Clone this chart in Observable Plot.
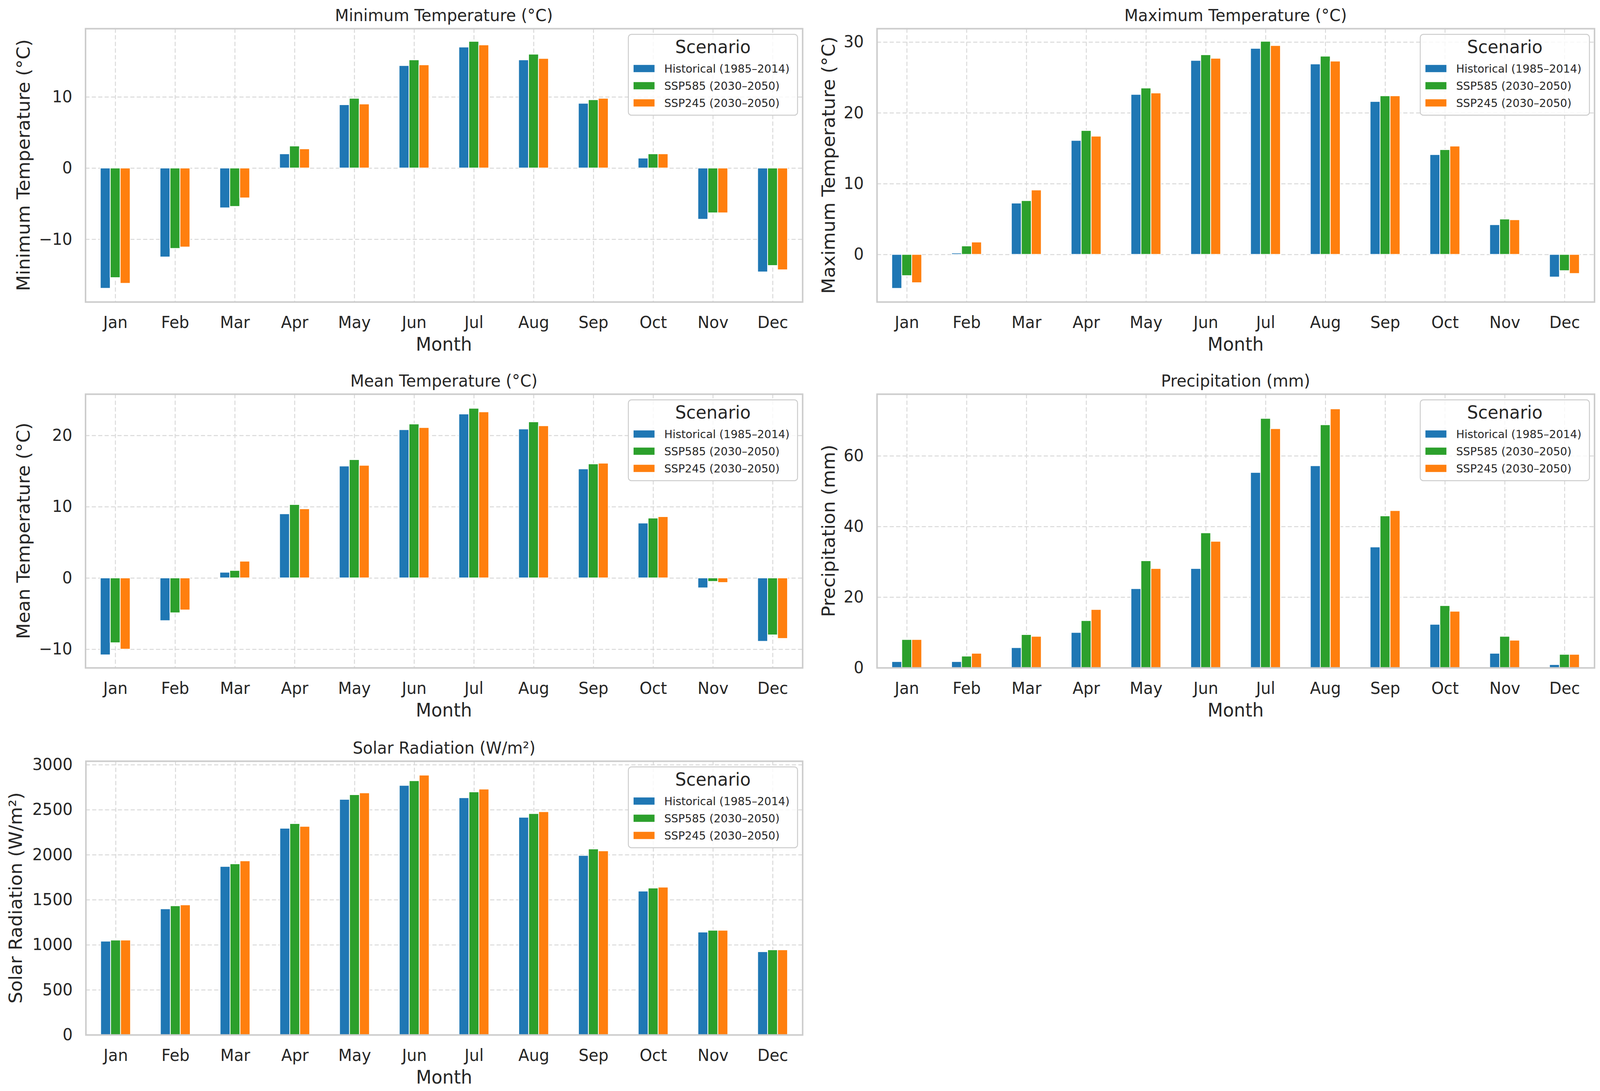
<!DOCTYPE html>
<html>
<head>
<meta charset="utf-8">
<script src="https://cdn.jsdelivr.net/npm/d3@7"></script>
<script src="https://cdn.jsdelivr.net/npm/@observablehq/plot@0.6"></script>
<style>
  html, body { margin: 0; padding: 0; background: #fff; overflow: hidden; }
  #root { position: relative; width: 4237px; height: 2794px; overflow: hidden; background: #fff; font-family: "DejaVu Sans", sans-serif; transform-origin: 0 0; }
  .panel { position: absolute; }
  #overlay { position: absolute; left: 0; top: 0; pointer-events: none; }
</style>
</head>
<body>
<div id="root"></div>
<script>
// ---------- data ----------
const months = ["Jan", "Feb", "Mar", "Apr", "May", "Jun", "Jul", "Aug", "Sep", "Oct", "Nov", "Dec"];
const scenarios = ["Historical (1985–2014)", "SSP585 (2030–2050)", "SSP245 (2030–2050)"];

const tminHist   = [-16.9, -12.5, -5.6, 2.0, 8.9, 14.4, 17.0, 15.2, 9.1, 1.4, -7.2, -14.6];
const tminSsp585 = [-15.4, -11.3, -5.4, 3.1, 9.8, 15.2, 17.8, 16.0, 9.6, 2.0, -6.3, -13.7];
const tminSsp245 = [-16.2, -11.1, -4.2, 2.7, 9.0, 14.5, 17.3, 15.4, 9.8, 2.0, -6.3, -14.3];

const tmaxHist   = [-4.8, 0.2, 7.25, 16.1, 22.6, 27.4, 29.1, 26.9, 21.6, 14.1, 4.2, -3.2];
const tmaxSsp585 = [-3.0, 1.2, 7.6, 17.5, 23.5, 28.2, 30.1, 28.0, 22.4, 14.8, 5.0, -2.3];
const tmaxSsp245 = [-4.0, 1.75, 9.1, 16.7, 22.8, 27.7, 29.5, 27.3, 22.4, 15.3, 4.9, -2.7];

const tmeanHist   = [-10.8, -6.0, 0.8, 9.0, 15.7, 20.8, 23.0, 20.9, 15.3, 7.7, -1.4, -8.9];
const tmeanSsp585 = [-9.1, -4.9, 1.05, 10.3, 16.6, 21.6, 23.8, 21.9, 16.0, 8.4, -0.5, -8.0];
const tmeanSsp245 = [-10.0, -4.5, 2.35, 9.7, 15.8, 21.1, 23.3, 21.35, 16.1, 8.6, -0.65, -8.5];

const precHist   = [1.75, 1.75, 5.7, 10.0, 22.4, 28.1, 55.3, 57.2, 34.2, 12.3, 4.1, 0.9];
const precSsp585 = [8.0, 3.3, 9.4, 13.35, 30.3, 38.2, 70.6, 68.8, 43.0, 17.6, 8.9, 3.8];
const precSsp245 = [8.0, 4.1, 8.9, 16.5, 28.1, 35.8, 67.7, 73.3, 44.5, 16.0, 7.8, 3.8];

const solarHist   = [1040, 1399, 1870, 2294, 2615, 2770, 2633, 2416, 1992, 1596, 1141, 923];
const solarSsp585 = [1052, 1433, 1899, 2346, 2667, 2822, 2698, 2457, 2064, 1630, 1161, 944];
const solarSsp245 = [1052, 1443, 1932, 2315, 2687, 2884, 2729, 2478, 2043, 1640, 1161, 944];

const tminTicks  = [-10, 0, 10];
const tmaxTicks  = [0, 10, 20, 30];
const tmeanTicks = [-10, 0, 10, 20];
const precTicks  = [0, 20, 40, 60];
const solarTicks = [0, 500, 1000, 1500, 2000, 2500, 3000];

// ---------- styling / layout ----------
const scenarioColors = ["#1f77b4", "#2ca02c", "#ff7f0e"];
const textColor = "#262626";
const FONT = '"DejaVu Sans", sans-serif';
const PAGE_W = 4237, PAGE_H = 2794;

const panels = [
  { title: "Minimum Temperature (°C)", ylabel: "Minimum Temperature (°C)", series: [tminHist, tminSsp585, tminSsp245],
    yDomain: [-18.8, 19.6], ticks: tminTicks, frame: {left: 226, top: 73, right: 2125, bottom: 773}, ylabelX: 79 },
  { title: "Maximum Temperature (°C)", ylabel: "Maximum Temperature (°C)", series: [tmaxHist, tmaxSsp585, tmaxSsp245],
    yDomain: [-6.7, 31.9], ticks: tmaxTicks, frame: {left: 2322, top: 73, right: 4222, bottom: 773}, ylabelX: 2211 },
  { title: "Mean Temperature (°C)", ylabel: "Mean Temperature (°C)", series: [tmeanHist, tmeanSsp585, tmeanSsp245],
    yDomain: [-12.6, 25.8], ticks: tmeanTicks, frame: {left: 226, top: 1009, right: 2125, bottom: 1710}, ylabelX: 79 },
  { title: "Precipitation (mm)", ylabel: "Precipitation (mm)", series: [precHist, precSsp585, precSsp245],
    yDomain: [0, 77.5], ticks: precTicks, frame: {left: 2322, top: 1009, right: 4222, bottom: 1710}, ylabelX: 2211 },
  { title: "Solar Radiation (W/m²)", ylabel: "Solar Radiation (W/m²)", series: [solarHist, solarSsp585, solarSsp245],
    yDomain: [0, 3040], ticks: solarTicks, frame: {left: 227, top: 1949, right: 2125, bottom: 2650}, ylabelX: 58 }
];

const root = document.getElementById("root");
function fitPage() {
  const sx = window.innerWidth / PAGE_W, sy = window.innerHeight / PAGE_H;
  root.style.transform = `scale(${sx}, ${sy})`;
}
fitPage();
window.addEventListener("resize", fitPage);

const ML = 200, MR = 30, MT = 30, MB = 110;
const gridStyle = {stroke: "#d9d9d9", strokeWidth: 2.5, strokeOpacity: 1, strokeDasharray: "11,6"};

for (const p of panels) {
  const fr = p.frame;
  const W = fr.right - fr.left, H = fr.bottom - fr.top;
  const rows = months.flatMap((m, i) => scenarios.map((s, k) => ({month: i, k, scenario: s, value: p.series[k][i]})));
  const chart = Plot.plot({
    width: W + ML + MR, height: H + MT + MB,
    marginLeft: ML, marginRight: MR, marginTop: MT, marginBottom: MB,
    style: {fontFamily: FONT, fontSize: "42px", color: textColor, background: "transparent", maxWidth: "none", overflow: "visible"},
    x: {domain: [-0.5, 11.5], label: null},
    y: {domain: p.yDomain, label: null},
    color: {domain: scenarios, range: scenarioColors},
    marks: [
      Plot.gridX(d3.range(months.length), gridStyle),
      Plot.gridY(p.ticks, gridStyle),
      Plot.rect(rows, {
        x1: d => d.month - 0.25 + d.k / 6,
        x2: d => d.month - 0.25 + (d.k + 1) / 6,
        y1: 0, y2: "value", fill: "scenario", stroke: "white", strokeWidth: 2
      }),
      Plot.frame({stroke: "#cccccc", strokeWidth: 4}),
      Plot.axisX(d3.range(months.length), {tickFormat: i => months[i], tickSize: 0, tickPadding: 37, label: null, fontSize: 42}),
      Plot.axisY(p.ticks, {tickFormat: d3.format("d"), tickSize: 0, tickPadding: 35, label: null, fontSize: 42})
    ]
  });
  const holder = document.createElement("div");
  holder.className = "panel";
  holder.style.left = (fr.left - ML) + "px";
  holder.style.top = (fr.top - MT) + "px";
  holder.appendChild(chart);
  root.appendChild(holder);
}

// ---------- overlay text: titles, axis labels, legends ----------
const svg = d3.select(root).append("svg").attr("id", "overlay")
  .attr("width", PAGE_W).attr("height", PAGE_H)
  .style("font-family", FONT).style("fill", textColor);

for (const p of panels) {
  const fr = p.frame;
  const cx = (fr.left + fr.right) / 2, cy = (fr.top + fr.bottom) / 2;
  svg.append("text").attr("x", cx).attr("y", fr.top - 19).attr("text-anchor", "middle")
    .attr("font-size", 42.5).attr("fill", textColor).text(p.title);
  svg.append("text").attr("x", cx).attr("y", fr.bottom + 125).attr("text-anchor", "middle")
    .attr("font-size", 47.5).attr("fill", textColor).text("Month");
  svg.append("text").attr("transform", `translate(${p.ylabelX},${cy}) rotate(-90)`).attr("text-anchor", "middle")
    .attr("font-size", 47.5).attr("fill", textColor).text(p.ylabel);

  const LW = 448, LH = 207;
  const g = svg.append("g").attr("transform", `translate(${fr.right - 13 - LW},${fr.top + 15})`);
  g.append("rect").attr("width", LW).attr("height", LH).attr("rx", 8)
    .attr("fill", "white").attr("fill-opacity", 0.8).attr("stroke", "#cccccc").attr("stroke-width", 2.5);
  g.append("text").attr("x", LW / 2).attr("y", 48).attr("text-anchor", "middle")
    .attr("font-size", 46).attr("fill", textColor).text("Scenario");
  const baselines = [98, 142, 186];
  scenarios.forEach((s, k) => {
    g.append("rect").attr("x", 13).attr("y", baselines[k] - 20.5).attr("width", 57).attr("height", 20)
      .attr("fill", scenarioColors[k]).attr("stroke", "white").attr("stroke-width", 1.5);
    g.append("text").attr("x", 95).attr("y", baselines[k]).attr("font-size", 29.2).attr("fill", textColor).text(s);
  });
}
</script>
</body>
</html>
